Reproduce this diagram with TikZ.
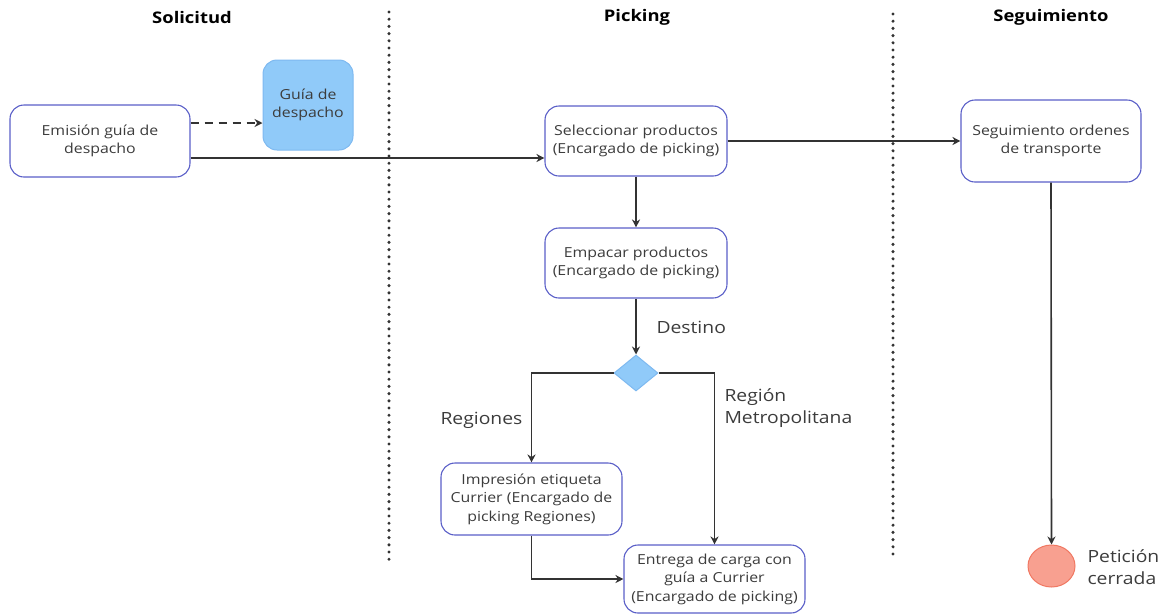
\documentclass[tikz,border=0pt]{standalone}
\usepackage{fontspec}
\setmainfont[FakeStretch=1.15]{Open Sans}
\usetikzlibrary{arrows.meta,shapes.geometric}
\definecolor{boxline}{HTML}{5A5FC8}
\definecolor{docfill}{HTML}{90CAF9}
\definecolor{docline}{HTML}{7EB9F0}
\definecolor{endfill}{HTML}{F8A090}
\definecolor{endline}{HTML}{F07862}
\definecolor{wire}{HTML}{333333}
\definecolor{txt}{HTML}{3C3C3C}
\begin{document}
\begin{tikzpicture}[x=1pt,y=-1pt,
  every node/.style={text=txt},
  stepbox/.style={draw=boxline, line width=1.1pt, rounded corners=14pt, fill=white,
    align=center, font=\fontsize{13.8}{18.5}\selectfont, inner sep=0pt},
  docbox/.style={draw=docline, line width=1pt, rounded corners=14pt, fill=docfill,
    align=center, font=\fontsize{13.8}{18.5}\selectfont, inner sep=0pt,
    minimum width=90pt, minimum height=90pt},
  flow/.style={draw=wire, line width=1.6pt, -{Stealth[length=8pt,width=8pt]}},
  lanesep/.style={draw=wire, line width=3.4pt, line cap=round, dash pattern=on 0pt off 7.2pt},
  lanehead/.style={font=\fontsize{16}{19}\selectfont\bfseries, text=black},
  guard/.style={font=\fontsize{16.8}{22}\selectfont, align=left}
]
\useasboundingbox (0,0) rectangle (1159,614);

% swimlane headers and separators
\node[lanehead] (hsol) at (192,17) {Solicitud};
\node[lanehead] (hpick) at (637,17) {Picking};
\node[lanehead] (hseg) at (1051,17) {Seguimiento};
\coordinate (s1a) at (389,12);
\coordinate (s1b) at (389,563);
\coordinate (s2a) at (893,14);
\coordinate (s2b) at (893,557);
\draw[lanesep] (s1a) -- (s1b);
\draw[lanesep] (s2a) -- (s2b);

% activities
\node[stepbox, minimum width=180pt, minimum height=72pt] (emision) at (100,141) {Emisión guía de\\despacho};
\node[docbox] (guia) at (308,105) {Guía de\\despacho};
\node[stepbox, minimum width=182pt, minimum height=70pt] (selec) at (636,141) {Seleccionar productos\\(Encargado de picking)};
\node[stepbox, minimum width=182pt, minimum height=70pt] (empac) at (636,263) {Empacar productos\\(Encargado de picking)};
\node[diamond, draw=docline, fill=docfill, line width=1pt, minimum width=44pt, minimum height=36pt, inner sep=0pt] (dest) at (636,373) {};
\node[stepbox, minimum width=181pt, minimum height=72pt] (impr) at (531.5,499) {Impresión etiqueta\\Currier (Encargado de\\picking Regiones)};
\node[stepbox, minimum width=181pt, minimum height=68pt] (entrega) at (714.5,579) {Entrega de carga con\\guía a Currier\\(Encargado de picking)};
\node[stepbox, minimum width=180pt, minimum height=82pt] (segui) at (1051,141) {Seguimiento ordenes\\de transporte};
\node[ellipse, draw=endline, fill=endfill, line width=1pt, minimum width=47pt, minimum height=42pt, inner sep=0pt] (fin) at (1051.5,566) {};

% labels
\node[guard, anchor=west] (ldest) at (653,327) {Destino};
\node[guard, anchor=west] (lreg) at (437,420) {Regiones};
\node[guard, anchor=west] (lrm) at (721,408) {Región\\Metropolitana};
\node[guard, anchor=west] (lfin) at (1084,567) {Petición\\cerrada};

% connectors
\draw[flow, dash pattern=on 8pt off 6pt] (emision.east |- 0,123) -- (guia.west |- 0,123);
\draw[flow] (emision.east |- 0,158) -- (selec.west |- 0,158);
\draw[flow] (selec.east) -- (segui.west);
\draw[flow] (selec.south) -- (empac.north);
\draw[flow] (empac.south) -- (dest.north);
\draw[flow] (dest.west) -| (impr.north);
\draw[flow] (dest.east) -| (entrega.north);
\draw[flow] (impr.south) |- (entrega.west);
\draw[flow] (segui.south) -- (fin.north);
\end{tikzpicture}
\end{document}
